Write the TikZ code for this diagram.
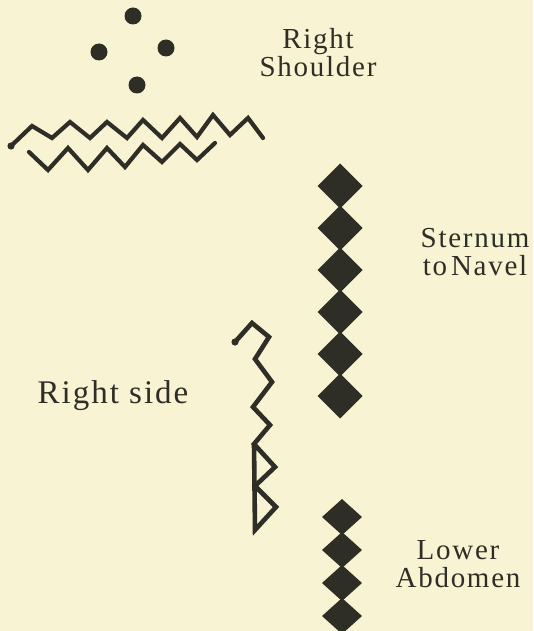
\documentclass[tikz,border=0pt]{standalone}
\usepackage{fontspec}
\newfontfamily\labfont[LetterSpace=6]{Liberation Serif}
\definecolor{paper}{HTML}{F7F3D3}
\definecolor{ink}{HTML}{2E2E26}
\setlength{\tabcolsep}{0pt}
\begin{document}
\begin{tikzpicture}[x=1pt,y=-1pt,
  lab/.style={text=ink,anchor=base,inner sep=0pt,font=\labfont\fontsize{29}{25}\selectfont},
  labwide/.style={lab,font=\labfont\fontsize{29}{27}\selectfont},
  biglab/.style={lab,font=\labfont\fontsize{33}{36}\selectfont},
  zig/.style={draw=ink,line width=4.2pt,line join=miter,line cap=round},
  dot/.style={fill=ink},
  dia/.style={fill=ink}]
\fill[paper] (0,0) rectangle (533,631);
\useasboundingbox (0,0) rectangle (533,631);
% dots
\fill[dot] (133,16) circle (8.5);
\fill[dot] (99,52) circle (8.5);
\fill[dot] (166,48) circle (8.5);
\fill[dot] (137,85) circle (8.5);
% zigzags
\draw[zig] (11,146)--(32,126)--(52,138)--(70,122)--(90,138)--(107,122)--(127,138)--(143,120)--(162,138)--(180,118)--(197,137)--(213,115)--(230,135)--(248,118)--(263,138);
\fill[ink] (11,146) circle (3.6);
\draw[zig] (29,152)--(48,170)--(68,148)--(88,170)--(107,148)--(125,167)--(143,145)--(162,162)--(180,144)--(197,160)--(215,143);
% right side figure
\draw[zig,line width=4.6pt] (235,342)--(252,323)--(269,337)--(255,359)--(272,382)--(253,407)--(270,425)--(254,444)--(275,467)--(255,486)--(276,507)--(255,530)--(254,444);
\fill[ink] (235,342) circle (3.6);
% sternum diamonds
\foreach \y in {186,228,270,312,354,396}
  \fill[dia] (340,\y-22.5)--(362.5,\y)--(340,\y+22.5)--(317.5,\y)--cycle;
% lower abdomen diamonds
\foreach \y in {517,550,583,616}
  \fill[dia] (342,\y-18)--(362,\y)--(342,\y+18)--(322,\y)--cycle;
% labels
\node[labwide] (rs) at (318,77) {\begin{tabular}[b]{c}Right\\Shoulder\end{tabular}};
\node[lab] (st) at (475,275) {\begin{tabular}[b]{c}Sternum\\to\hspace{4pt}Navel\end{tabular}};
\node[biglab] (rside) at (113,403) {Right side};
\node[lab] (la) at (458,587) {\begin{tabular}[b]{c}Lower\hspace{14pt}\\Abdomen\end{tabular}};
\end{tikzpicture}
\end{document}
